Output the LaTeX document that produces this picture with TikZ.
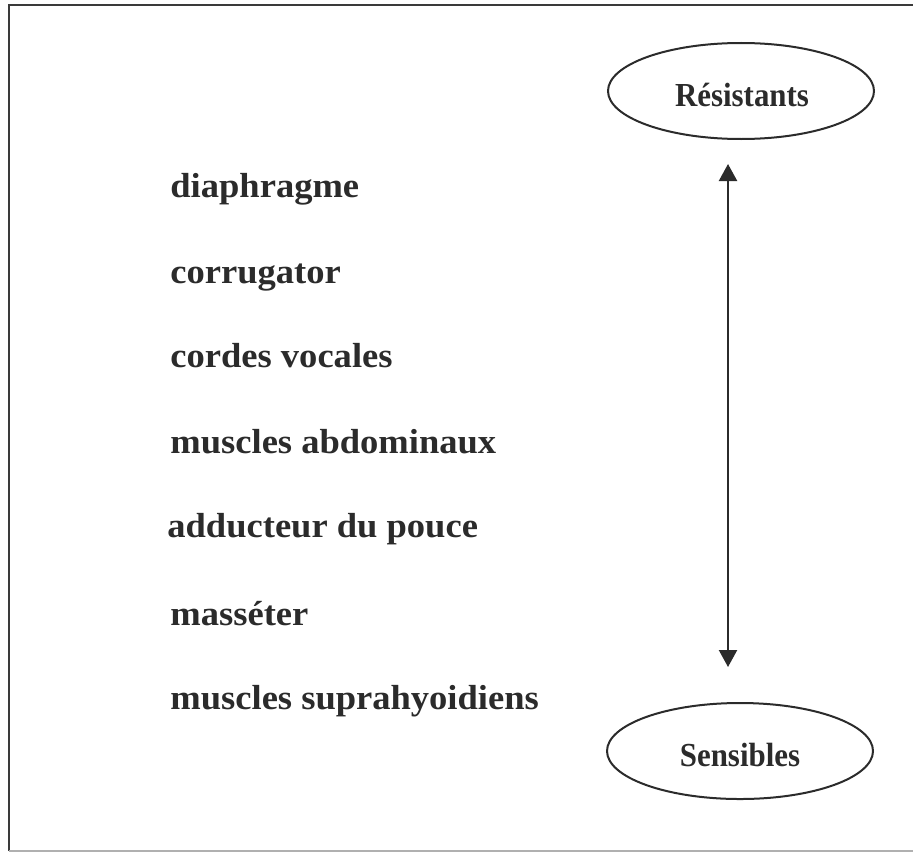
\documentclass[tikz,border=0pt]{standalone}
\usepackage{fontspec}
\setmainfont{Liberation Serif}
\newfontfamily\widefont{Liberation Serif}[FakeStretch=1.05]
\newfontfamily\narrowfont{Liberation Serif}[FakeStretch=0.92]
\usetikzlibrary{shapes.geometric,arrows.meta}
\definecolor{ink}{HTML}{2B2B2B}
\definecolor{frame}{HTML}{3A3A3A}
\newlength{\pxu}
\setlength{\pxu}{0.5pt}
\tikzset{
  item/.style={anchor=base west,inner sep=0pt,text=ink,font=\widefont\bfseries\fontsize{17.4}{20}\selectfont},
  oval/.style={ellipse,draw=ink,line width=1pt,minimum width=266\pxu,minimum height=96\pxu,inner sep=0pt},
  ovaltext/.style={anchor=base,inner sep=0pt,text=ink,font=\narrowfont\bfseries\fontsize{16.8}{19}\selectfont},
  conn/.style={draw=ink,line width=1.1pt,{Triangle[length=8.5pt,width=9pt]}-{Triangle[length=8.5pt,width=9pt]}},
  border/.style={draw=frame,line width=1.1pt}
}
\begin{document}
\begin{tikzpicture}[x=0.5pt,y=-0.5pt]
\useasboundingbox (0,0) rectangle (913,856);
% frame
\coordinate (fbl) at (9,851);
\coordinate (ftl) at (9,5);
\coordinate (ftr) at (915,5);
\coordinate (fbr) at (915,851);
\draw[border] (fbl) -- (ftl) -- (ftr);
\draw[draw=frame!40,line width=0.6pt] (fbl) -- (fbr);
% ellipses
\node[oval] (res) at (741,91) {};
\node[ovaltext] (restext) at (742,106) {Résistants};
\node[oval] (sen) at (740,751) {};
\node[ovaltext] (sentext) at (740,766) {Sensibles};
% arrow
\coordinate (atop) at (728,164);
\coordinate (abot) at (728,667);
\draw[conn] (atop) -- (abot);
% list
\node[item] (m1) at (170,197) {diaphragme};
\node[item] (m2) at (170,283) {corrugator};
\node[item] (m3) at (170,367) {cordes vocales};
\node[item] (m4) at (170,453) {muscles abdominaux};
\node[item] (m5) at (167,537) {adducteur du pouce};
\node[item] (m6) at (170,625) {masséter};
\node[item] (m7) at (170,709) {muscles suprahyoidiens};
\end{tikzpicture}
\end{document}
